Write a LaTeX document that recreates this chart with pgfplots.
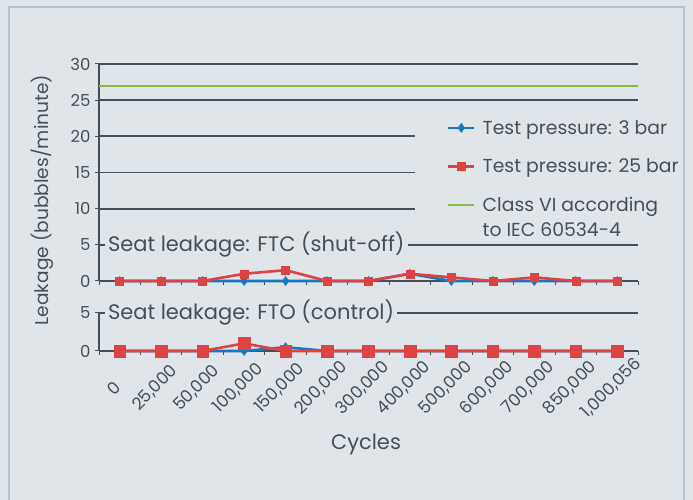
\documentclass[border=0pt]{standalone}
\usepackage{fontspec}
\setmainfont{Poppins}
\usepackage{pgfplots}
\pgfplotsset{compat=1.18}
\definecolor{bg}{HTML}{E0E5E9}
\definecolor{framec}{HTML}{B8C2C9}
\definecolor{dk}{HTML}{474F56}
\definecolor{sblue}{HTML}{1479BD}
\definecolor{sred}{HTML}{DE4343}
\definecolor{sgreen}{HTML}{88BA45}
\newcommand\fT{\fontsize{16.5}{19}\selectfont}
\newcommand\fX{\fontsize{17}{19}\selectfont}
\newcommand\fL{\fontsize{18.8}{25.5}\selectfont}
\newcommand\fS{\fontsize{21}{24}\selectfont}
\newcommand\fY{\fontsize{18.6}{22}\selectfont}

\pgfplotstableread{
x ftcA ftcB ftoA ftoB
0 0 0 0 0
1 0 0 0 0
2 0 0 0 0
3 0 1 0 1
4 0 1.5 0.5 0
5 0 0 0 0
6 0 0 0 0
7 1 1 0 0
8 0 0.5 0 0
9 0 0 0 0
10 0 0.5 0 0
11 0 0 0 0
12 0 0 0 0
}\datatab

\pgfplotsset{
  common/.style={
    scale only axis, width=539pt,
    xmin=-0.5, xmax=12.5, ymin=0,
    axis lines*=left,
    axis line style={dk, line width=1.8pt},
    ymajorgrids, grid style={dk, line width=1.8pt},
    tick align=outside,
    major tick length=4pt,
    tick style={dk, line width=1pt},
    xtick={-0.5,0.5,...,12.5}, xticklabels={},
    yticklabel style={font=\fT, text=dk, xshift=-1pt},
    /pgf/number format/assume math mode=true,
    clip=false,
  },
  sA/.style={sblue, line width=2.6pt, mark=diamond*, mark size=4.5pt, mark options={solid, fill=sblue, draw=sblue, line width=0.5pt}},
  sB/.style={sred, line width=2.6pt, mark=square*, mark size=5.8pt, mark options={solid, fill=sred, draw=sred, line width=0.5pt}},
}

\begin{document}
\begin{tikzpicture}
\path[use as bounding box, fill=bg] (0pt,0pt) rectangle (693pt,500pt);

% top axis: FTC
\begin{axis}[common,
  at={(99pt,219pt)}, height=217pt,
  ymax=30, ytick={0,5,...,30},
  legend style={draw=none, fill=bg, at={(0.586,0.765)}, anchor=north west,
    font=\fL, text=dk, row sep=19pt, column sep=5pt, inner xsep=32pt, inner ysep=3pt,
    cells={anchor=west, align=left}},
  legend cell align=left,
  legend image code/.code={\draw[mark repeat=2, mark phase=2, #1] plot coordinates {(0pt,0pt) (13pt,0pt) (26pt,0pt)};},
]
\addplot[sA] table[x=x, y=ftcA] {\datatab};
\addlegendentry{Test pressure: 3 bar}
\addplot[sB, mark size=4pt] table[x=x, y=ftcB] {\datatab};
\addlegendentry{Test pressure: 25 bar}
\addplot[sgreen, line width=2.2pt, mark=none, legend image post style={yshift=13pt}] coordinates {(-0.5,27) (12.5,27)};
\addlegendentry{Class VI according\\to IEC 60534-4}
\node[fill=bg, anchor=west, inner xsep=3pt, inner ysep=3pt, font=\fS, text=dk] at (axis cs:-0.36,5) {Seat leakage: FTC (shut-off)\hspace{12pt}};
\end{axis}

% bottom axis: FTO
\begin{axis}[common,
  at={(99pt,149pt)}, height=38pt,
  ymax=5, ytick={0,5},
  extra x ticks={0,...,12},
  extra x tick labels={0,{25,000},{50,000},{100,000},{150,000},{200,000},{300,000},{400,000},{500,000},{600,000},{700,000},{850,000},{1,000,056}},
  extra x tick style={major tick length=0pt,
    xticklabel style={font=\fX, text=dk, xshift=-6pt, yshift=-37pt, rotate=45, anchor=center}},
]
\addplot[sA] table[x=x, y=ftoA] {\datatab};
\addplot[sB] table[x=x, y=ftoB] {\datatab};
\node[fill=bg, anchor=west, inner xsep=3pt, inner ysep=3pt, font=\fS, text=dk] at (axis cs:-0.36,5) {Seat leakage: FTO (control)\hspace{10pt}};
\end{axis}

\node[rotate=90, font=\fY, text=dk] at (42pt,300pt) {Leakage (bubbles/minute)};
\node[font=\fS, text=dk] at (366pt,56pt) {Cycles};
\draw[framec, line width=1.5pt] (9pt,-20pt) -- (9pt,493pt) -- (684pt,493pt) -- (684pt,-20pt);
\end{tikzpicture}
\end{document}
